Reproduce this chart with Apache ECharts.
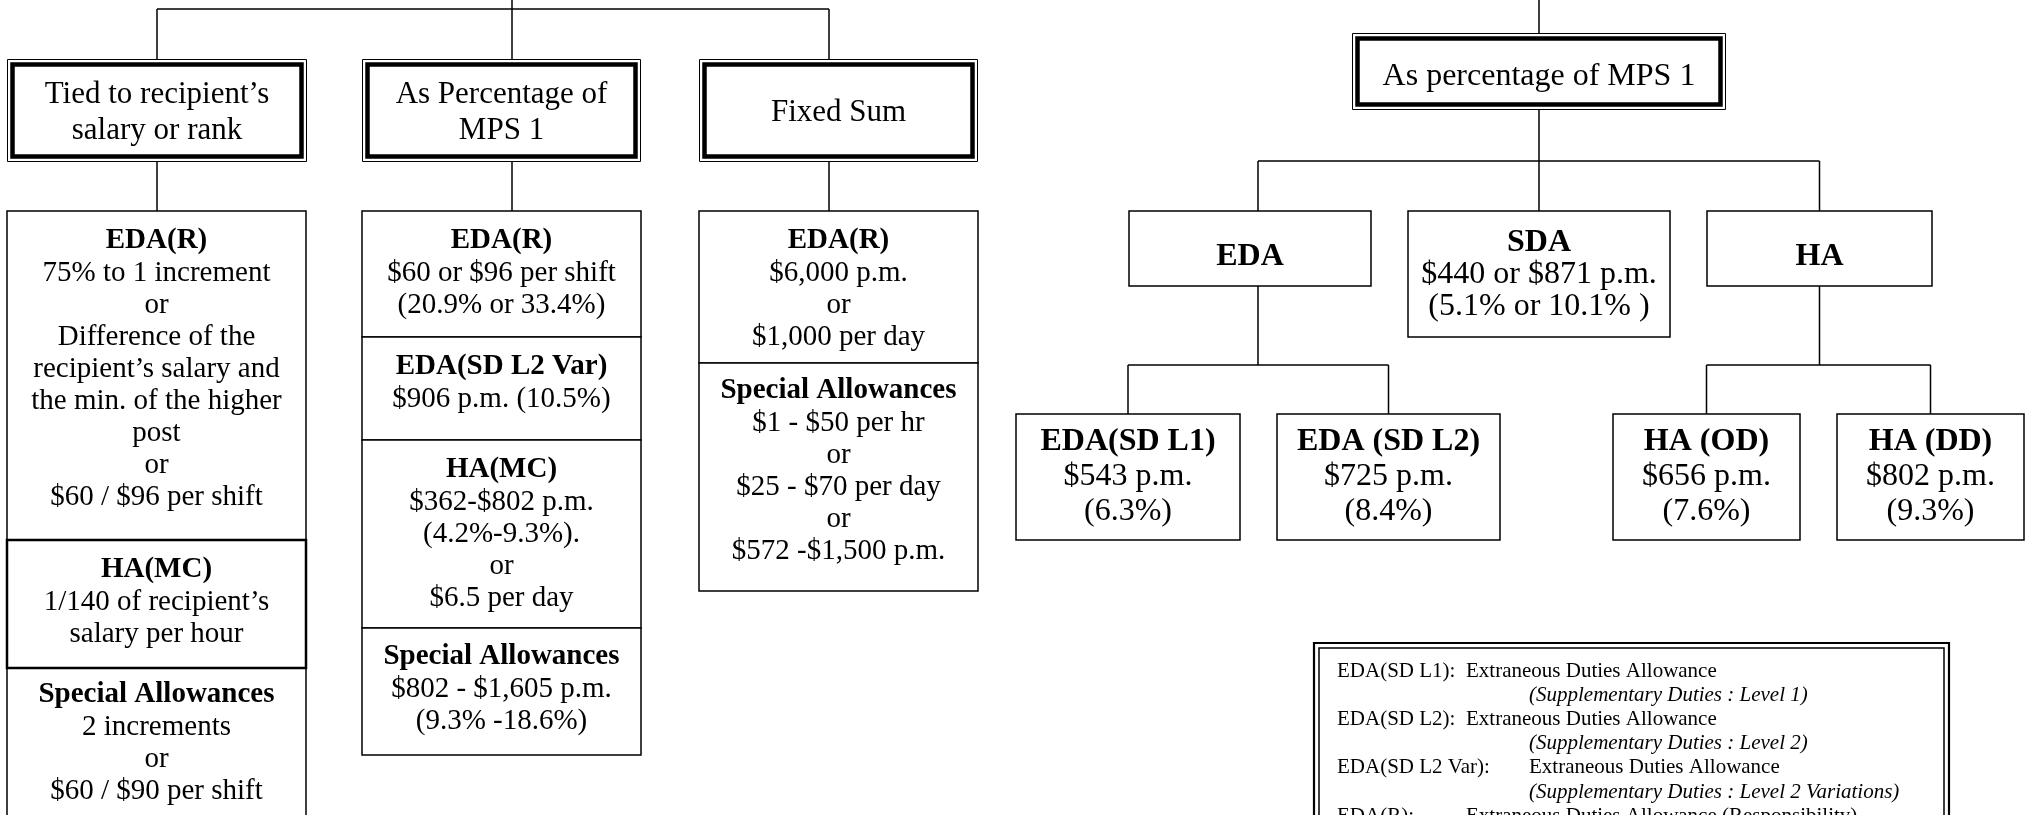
<!DOCTYPE html>
<html>
<head>
<meta charset="utf-8">
<script src="https://cdn.jsdelivr.net/npm/echarts@6/dist/echarts.min.js"></script>
<style>
  html, body { margin: 0; background: #fff; }
  #chart { width: 2027px; height: 815px; }
</style>
</head>
<body>
<div id="chart"></div>
<script>
const SERIF = '"Liberation Serif", "Times New Roman", serif';

// box texts
const tiedTitle = ['Tied to recipient’s', 'salary or rank'];
const pctTitle = ['As Percentage of', 'MPS 1'];
const fixedTitle = ['Fixed Sum'];
const tiedEdaR = ['EDA(R)', '75% to 1 increment', 'or', 'Difference of the', 'recipient’s salary and', 'the min. of the higher', 'post', 'or', '$60 / $96 per shift'];
const tiedHaMc = ['HA(MC)', '1/140 of recipient’s', 'salary per hour'];
const tiedSpecial = ['Special Allowances', '2 increments', 'or', '$60 / $90 per shift'];
const pctEdaR = ['EDA(R)', '$60 or $96 per shift', '(20.9% or 33.4%)'];
const pctEdaL2Var = ['EDA(SD L2 Var)', '$906 p.m. (10.5%)'];
const pctHaMc = ['HA(MC)', '$362-$802 p.m.', '(4.2%-9.3%).', 'or', '$6.5 per day'];
const pctSpecial = ['Special Allowances', '$802 - $1,605 p.m.', '(9.3% -18.6%)'];
const fixedEdaR = ['EDA(R)', '$6,000 p.m.', 'or', '$1,000 per day'];
const fixedSpecial = ['Special Allowances', '$1 - $50 per hr', 'or', '$25 - $70 per day', 'or', '$572 -$1,500 p.m.'];
const mpsTitle = ['As percentage of MPS 1'];
const edaHead = ['EDA'];
const sdaBox = ['SDA', '$440 or $871 p.m.', '(5.1% or 10.1% )'];
const haHead = ['HA'];
const edaL1 = ['EDA(SD L1)', '$543 p.m.', '(6.3%)'];
const edaL2 = ['EDA (SD L2)', '$725 p.m.', '(8.4%)'];
const haOd = ['HA (OD)', '$656 p.m.', '(7.6%)'];
const haDd = ['HA (DD)', '$802 p.m.', '(9.3%)'];

// glossary
const glossTerms = ['EDA(SD L1):', '', 'EDA(SD L2):', '', 'EDA(SD L2 Var):', '', 'EDA(R):'];
const glossMeanings = [
  'Extraneous Duties Allowance', '(Supplementary Duties : Level 1)',
  'Extraneous Duties Allowance', '(Supplementary Duties : Level 2)',
  'Extraneous Duties Allowance', '(Supplementary Duties : Level 2 Variations)',
  'Extraneous Duties Allowance (Responsibility)'
];

// layout, in page pixels (axes are 1:1 with the canvas)
const TEXT_SHIFT = 2;
const title = { frame: 'double', size: 31, lh: 36, bold: false };
const cell = { frame: 'single', size: 29, lh: 32, bold: true, top: 28 };
const rcell = { frame: 'single', size: 32, lh: 33, bold: true };
const boxes = [
  { id: 'rootL', hidden: true, rect: [462, -80, 562, -40], ax: 512 },
  { id: 'rootR', hidden: true, rect: [1489, -80, 1589, -40], ax: 1539 },
  { id: 'tied', lines: tiedTitle, rect: [7, 59, 307, 162], ...title },
  { id: 'pct', lines: pctTitle, rect: [362, 59, 641, 162], ax: 512, ...title },
  { id: 'fixed', lines: fixedTitle, rect: [699, 59, 978, 162], ax: 829, ...title },
  { id: 'tiedEdaR', lines: tiedEdaR, rect: [7, 211, 306, 540], ...cell },
  { id: 'tiedSpecial', lines: tiedSpecial, rect: [7, 668, 306, 880], ...cell, top: 25 },
  { id: 'tiedHaMc', lines: tiedHaMc, rect: [7, 540, 306, 668], ...cell, lw: 2.5 },
  { id: 'pctEdaR', lines: pctEdaR, rect: [362, 211, 641, 337], ...cell },
  { id: 'pctEdaL2Var', lines: pctEdaL2Var, rect: [362, 337, 641, 440], ...cell },
  { id: 'pctHaMc', lines: pctHaMc, rect: [362, 440, 641, 628], ...cell },
  { id: 'pctSpecial', lines: pctSpecial, rect: [362, 628, 641, 755], ...cell, top: 27 },
  { id: 'fixedEdaR', lines: fixedEdaR, rect: [699, 211, 978, 363], ...cell },
  { id: 'fixedSpecial', lines: fixedSpecial, rect: [699, 363, 978, 591], ...cell, top: 26 },
  { id: 'mps', lines: mpsTitle, rect: [1352, 33, 1726, 110], ...title, size: 32, dy: 3 },
  { id: 'eda', lines: edaHead, rect: [1129, 211, 1371, 286], ax: 1258, ...rcell, dy: 6 },
  { id: 'sda', lines: sdaBox, rect: [1408, 211, 1670, 337], ...rcell, lh: 32, dy: -1 },
  { id: 'ha', lines: haHead, rect: [1707, 211, 1932, 286], ...rcell, dy: 6 },
  { id: 'edaL1', lines: edaL1, rect: [1016, 414, 1240, 540], ...rcell, lh: 35, dy: -2 },
  { id: 'edaL2', lines: edaL2, rect: [1277, 414, 1500, 540], ...rcell, lh: 35, dy: -2 },
  { id: 'haOd', lines: haOd, rect: [1613, 414, 1800, 540], ...rcell, lh: 35, dy: -2 },
  { id: 'haDd', lines: haDd, rect: [1837, 414, 2024, 540], ...rcell, lh: 35, dy: -2 },
  { id: 'gloss', kind: 'gloss', rect: [1313, 642, 1950, 900] }
];
const glossLayout = { left: 24, tab1: 1466, tab2: 1529, first: 27, lh: 24.2, size: 21 };

const links = [
  { from: 'rootL', to: ['tied', 'pct', 'fixed'], bus: 9 },
  { from: 'tied', to: ['tiedEdaR'] },
  { from: 'pct', to: ['pctEdaR'] },
  { from: 'fixed', to: ['fixedEdaR'] },
  { from: 'rootR', to: ['mps'] },
  { from: 'mps', to: ['eda', 'sda', 'ha'], bus: 161 },
  { from: 'eda', to: ['edaL1', 'edaL2'], bus: 365 },
  { from: 'ha', to: ['haOd', 'haDd'], bus: 365 }
];

const byId = {};
boxes.forEach(b => { byId[b.id] = b; });
const anchorX = b => (b.ax != null ? b.ax : (b.rect[0] + b.rect[2]) / 2);

// elbow connectors from the tree
const segs = [];
links.forEach(l => {
  const p = byId[l.from];
  const px = anchorX(p), py = p.rect[3];
  const kids = l.to.map(id => byId[id]);
  if (l.bus == null) {
    segs.push([px, py, px, kids[0].rect[1]]);
    return;
  }
  segs.push([px, py, px, l.bus]);
  const xs = kids.map(anchorX).concat(px);
  segs.push([Math.min(...xs), l.bus, Math.max(...xs), l.bus]);
  kids.forEach(k => segs.push([anchorX(k), l.bus, anchorX(k), k.rect[1]]));
});

const measureCtx = document.createElement('canvas').getContext('2d');
function textWidth(t, font) { measureCtx.font = font; return measureCtx.measureText(t).width; }

function txt(text, x, y, font, align) {
  return {
    type: 'text', x: x, y: y + TEXT_SHIFT,
    style: { text: text, font: font, fill: '#000', align: align || 'center', verticalAlign: 'middle',
             textAlign: align || 'center', textVerticalAlign: 'middle' }
  };
}

function renderBox(params, api) {
  const b = boxes[api.value(4)];
  const p0 = api.coord([api.value(0), api.value(1)]);
  const p1 = api.coord([api.value(2), api.value(3)]);
  const x = p0[0], y = p0[1], w = p1[0] - p0[0], h = p1[1] - p0[1];
  const kids = [];
  if (b.hidden) return { type: 'group', children: [] };

  if (b.kind === 'gloss') {
    kids.push({ type: 'rect', shape: { x: x + 1, y: y + 1, width: w - 2, height: h - 2 }, style: { fill: '#fff', stroke: '#000', lineWidth: 2.2 } });
    kids.push({ type: 'rect', shape: { x: x + 6, y: y + 6, width: w - 12, height: h - 12 }, style: { fill: 'none', stroke: '#000', lineWidth: 1.5 } });
    const g = glossLayout;
    const font = g.size + 'px ' + SERIF;
    const ifont = 'italic ' + g.size + 'px ' + SERIF;
    glossTerms.forEach((term, i) => {
      const ly = y + g.first + i * g.lh;
      if (term) kids.push(txt(term, x + g.left, ly, font, 'left'));
      const italic = i % 2 === 1;
      const tooWide = x + g.left + textWidth(term, font) + 8 > g.tab1;
      const tx = (italic || tooWide) ? g.tab2 : g.tab1;
      kids.push(txt(glossMeanings[i], api.coord([tx, 0])[0], ly, italic ? ifont : font, 'left'));
    });
    return { type: 'group', children: kids };
  }

  if (b.frame === 'double') {
    kids.push({ type: 'rect', shape: { x: x + 0.5, y: y + 0.5, width: w - 1, height: h - 1 }, style: { fill: '#fff', stroke: '#000', lineWidth: 1 } });
    kids.push({ type: 'rect', shape: { x: x + 5.5, y: y + 5.5, width: w - 11, height: h - 11 }, style: { fill: 'none', stroke: '#000', lineWidth: 4.5 } });
  } else {
    kids.push({ type: 'rect', shape: { x: x, y: y, width: w, height: h }, style: { fill: '#fff', stroke: '#000', lineWidth: b.lw || 1.5 } });
  }

  const n = b.lines.length;
  let first;
  if (b.top != null) first = y + b.top;
  else first = y + h / 2 + (b.dy || 0) - (n - 1) * b.lh / 2;
  b.lines.forEach((line, i) => {
    const bold = b.bold && i === 0;
    const font = (bold ? 'bold ' : '') + b.size + 'px ' + SERIF;
    kids.push(txt(line, x + w / 2, first + i * b.lh, font));
  });
  return { type: 'group', children: kids };
}

function renderSeg(params, api) {
  const a = api.coord([api.value(0), api.value(1)]);
  const c = api.coord([api.value(2), api.value(3)]);
  return { type: 'line', shape: { x1: a[0], y1: a[1], x2: c[0], y2: c[1] }, style: { stroke: '#000', lineWidth: 1.5 } };
}

const chart = echarts.init(document.getElementById('chart'), null, { renderer: 'canvas' });
chart.setOption({
  animation: false,
  backgroundColor: '#fff',
  grid: { left: 0, right: 0, top: 0, bottom: 0 },
  xAxis: { type: 'value', min: 0, max: 2027, show: false },
  yAxis: { type: 'value', min: 0, max: 815, inverse: true, show: false },
  series: [
    {
      type: 'custom', name: 'connectors', renderItem: renderSeg, silent: true,
      data: segs
    },
    {
      type: 'custom', name: 'boxes', renderItem: renderBox, silent: true,
      data: boxes.map((b, i) => b.rect.concat(i))
    }
  ]
});

window.onresize = function () { chart.resize(); };
</script>
</body>
</html>
